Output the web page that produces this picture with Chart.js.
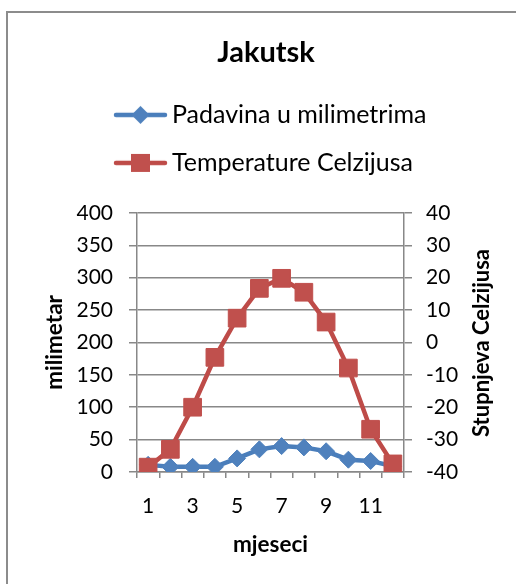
<!DOCTYPE html>
<html>
<head>
<meta charset="utf-8">
<script src="https://cdn.jsdelivr.net/npm/chart.js@4"></script>
<style>
  html, body { margin: 0; padding: 0; background: #fff; overflow: hidden; }
  #wrap { position: absolute; left: 0; top: 0; width: 516px; height: 584px; }
  #frame { position: absolute; left: 6px; top: 11px; width: 600px; height: 700px;
           border-top: 2px solid #8c8c8c; border-left: 2px solid #8c8c8c; }
  canvas { position: absolute; left: 0; top: 0; }
</style>
</head>
<body>
<div id="wrap">
  <div id="frame"></div>
  <canvas id="c" width="516" height="584"></canvas>
</div>
<script>
// ---- data ----
const chartTitle = 'Jakutsk';
const months = ['1','2','3','4','5','6','7','8','9','10','11','12'];
const precipLabel = 'Padavina u milimetrima';
const precip = [11, 8, 8, 8, 21, 35, 40, 38, 32, 19, 17, 9];
const tempLabel = 'Temperature Celzijusa';
const temp = [-38.5, -33, -20, -4.6, 7.5, 16.7, 19.8, 15.5, 6.3, -7.9, -26.8, -37.5];
const leftTitle = 'milimetar';
const rightTitle = 'Stupnjeva Celzijusa';
const xTitle = 'mjeseci';

const FONT = 'Lato';
const blue = '#4F81BD', blueLine = '#4A7EBB';
const red = '#C0504D', redLine = '#BE4B48';
const gray = '#888888';

Chart.defaults.color = '#000';
Chart.defaults.font.family = FONT;

function legendIcon(color, lineColor, kind) {
  const c = document.createElement('canvas');
  c.width = 55; c.height = 22;
  const g = c.getContext('2d');
  g.strokeStyle = lineColor; g.lineWidth = 4.5; g.lineCap = 'round';
  g.beginPath(); g.moveTo(3, 11); g.lineTo(52, 11); g.stroke();
  g.fillStyle = color;
  if (kind === 'diamond') {
    g.beginPath(); g.moveTo(27.5, 2); g.lineTo(36.5, 11); g.lineTo(27.5, 20); g.lineTo(18.5, 11); g.closePath(); g.fill();
  } else {
    g.fillRect(18, 2, 19, 18);
  }
  return c;
}
const icons = [legendIcon(blue, blueLine, 'diamond'), legendIcon(red, redLine, 'square')];

const LEGEND_X = 121.5;   // left edge of legend rows
const EXTRA = 27.5;       // gap between legend and plot
const tweak = {
  id: 'tweak',
  beforeUpdate(chart) {
    const lg = chart.legend;
    if (lg && !lg._tweaked) {
      const orig = lg.fit;
      lg.fit = function () { orig.call(this); this.height += EXTRA; };
      lg._tweaked = true;
    }
  },
  afterLayout(chart) {
    const lg = chart.legend;
    if (lg && lg.lineWidths) {
      const pad = lg.options.labels.padding;
      const L = lg.left + pad + lg.right - 2 * LEGEND_X;
      for (let i = 0; i < lg.lineWidths.length; i++) lg.lineWidths[i] = L;
    }
  },
  afterDraw(chart) {
    const ctx = chart.ctx;
    ctx.save();
    ctx.translate(482, 343);
    ctx.rotate(-Math.PI / 2);
    ctx.font = 'bold 22px ' + FONT;
    ctx.fillStyle = '#000';
    ctx.textAlign = 'center';
    ctx.textBaseline = 'middle';
    ctx.fillText(rightTitle, 0, 0);
    ctx.restore();
  }
};

new Chart(document.getElementById('c'), {
  type: 'line',
  data: {
    labels: months,
    datasets: [
      { label: precipLabel, data: precip, yAxisID: 'y', order: 2,
        borderColor: blueLine, backgroundColor: blue, borderWidth: 4.5,
        pointStyle: 'rectRot', pointRadius: 8.5, pointBorderWidth: 1,
        pointBackgroundColor: blue, pointBorderColor: blue, tension: 0 },
      { label: tempLabel, data: temp, yAxisID: 'y1', order: 1,
        borderColor: redLine, backgroundColor: red, borderWidth: 4.5,
        pointStyle: 'rect', pointRadius: 12.5, pointBorderWidth: 1,
        pointBackgroundColor: red, pointBorderColor: red, tension: 0 }
    ]
  },
  options: {
    responsive: false,
    animation: false,
    layout: { padding: { left: 22, right: 6, top: 0, bottom: 0 } },
    plugins: {
      tooltip: { enabled: false },
      title: { display: true, text: chartTitle, font: { size: 29, weight: 'bold' },
               padding: { top: 35.6, bottom: 9 } },
      legend: {
        position: 'top',
        labels: {
          font: { size: 25 },
          padding: 23,
          usePointStyle: true,
          pointStyleWidth: 38,
          sort: (a, b) => a.datasetIndex - b.datasetIndex,
          generateLabels(chart) {
            const items = Chart.defaults.plugins.legend.labels.generateLabels(chart);
            items.forEach(it => { it.pointStyle = icons[it.datasetIndex]; });
            return items;
          }
        }
      }
    },
    scales: {
      x: {
        offset: true,
        grid: { offset: true, drawOnChartArea: false, drawTicks: true, tickLength: 6, color: gray, lineWidth: 1.5 },
        border: { color: gray, width: 1.5 },
        ticks: { autoSkip: false, maxRotation: 0, padding: 16, font: { size: 21 },
                 callback: (v, i) => (i % 2 === 0 ? months[i] : '') },
        title: { display: true, text: xTitle, font: { size: 22.5, weight: 'bold' }, padding: { top: 0, bottom: 25.5 } },
        afterFit: s => { s.height = 112; }
      },
      y: {
        position: 'left', min: 0, max: 400,
        grid: { color: gray, lineWidth: 1.5, tickLength: 8 },
        border: { color: gray, width: 1.5 },
        ticks: { stepSize: 50, padding: 16, font: { size: 21 } },
        title: { display: true, text: leftTitle, font: { size: 22.5, weight: 'bold' }, padding: { top: 19.5, bottom: 0 } },
        afterFit: s => { s.width = 115; }
      },
      y1: {
        position: 'right', min: -40, max: 40,
        grid: { drawOnChartArea: false, color: gray, lineWidth: 1.5, tickLength: 8 },
        border: { color: gray, width: 1.5 },
        ticks: { stepSize: 10, padding: 14, font: { size: 21 } },
        afterFit: s => { s.width = 106; }
      }
    }
  },
  plugins: [tweak]
});
</script>
</body>
</html>
